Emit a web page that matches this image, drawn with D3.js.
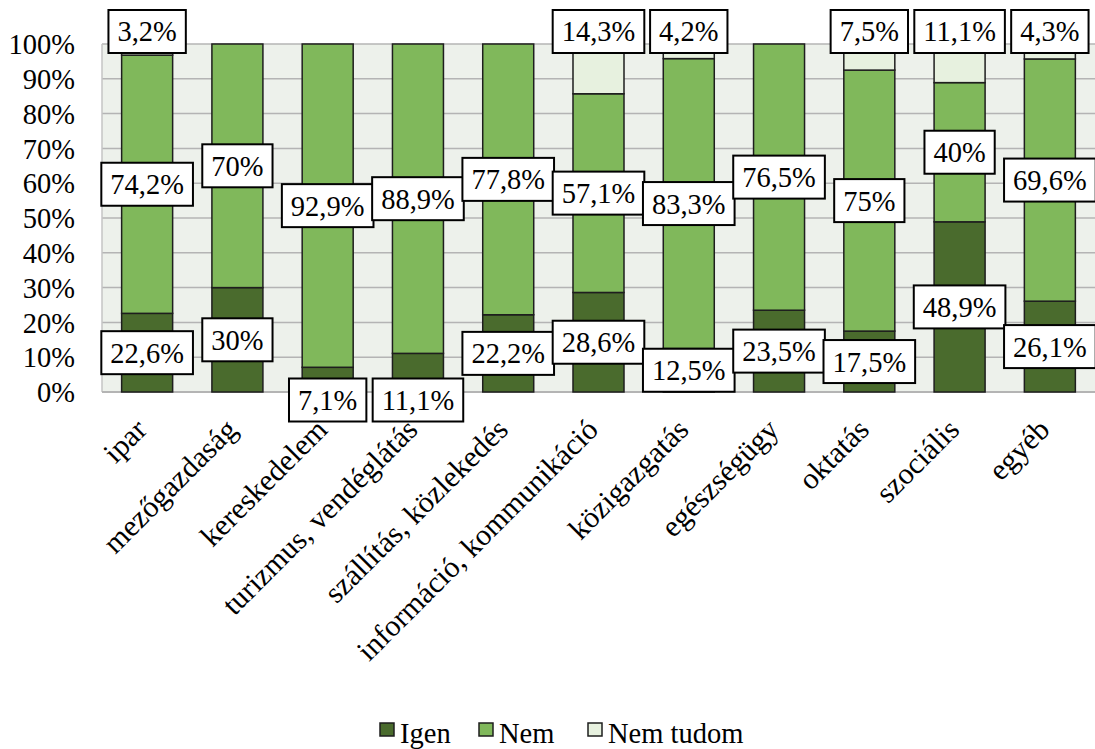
<!DOCTYPE html>
<html>
<head>
<meta charset="utf-8">
<script src="https://cdn.jsdelivr.net/npm/d3@7"></script>
</head>
<body style="margin:0">
<svg id="chart" width="1095" height="749" font-family="Liberation Serif, Tinos, Times New Roman, serif" font-size="28"></svg>
<script>
// Sectors and answer shares (%)
const categories = ["ipar", "mezőgazdaság", "kereskedelem", "turizmus, vendéglátás",
  "szállítás, közlekedés", "információ, kommunikáció", "közigazgatás",
  "egészségügy", "oktatás", "szociális", "egyéb"];
const igen      = [22.6, 30, 7.1, 11.1, 22.2, 28.6, 12.5, 23.5, 17.5, 48.9, 26.1];
const nem       = [74.2, 70, 92.9, 88.9, 77.8, 57.1, 83.3, 76.5, 75, 40, 69.6];
const nemTudom  = [3.2, 0, 0, 0, 0, 14.3, 4.2, 0, 7.5, 11.1, 4.3];
const seriesNames = ["Igen", "Nem", "Nem tudom"];
const seriesValues = [igen, nem, nemTudom];
const yTicks = [0, 10, 20, 30, 40, 50, 60, 70, 80, 90, 100];

const colors = ["#4a6b2d", "#80b85b", "#e7f1df"];
const FONT = "Liberation Serif, Tinos, Times New Roman, serif";
const FS = 28.5;

const svg = d3.select("#chart");
const plot = { left: 102, right: 1095, top: 44, bottom: 392 };

const rows = categories.map((c, i) => ({ cat: c, idx: i, Igen: igen[i], Nem: nem[i], "Nem tudom": nemTudom[i] }));

const x = d3.scaleBand().domain(categories).range([plot.left, plot.right])
  .paddingInner(0.435).paddingOuter(0.2175);
const y = d3.scaleLinear().domain([0, 100]).range([plot.bottom, plot.top]);

// text helper: serif face at a fixed size
const serif = (sel, size = FS) => sel.attr("font-family", FONT).attr("font-size", size).attr("fill", "#000");

// plot background
svg.append("rect")
  .attr("x", plot.left).attr("y", plot.top)
  .attr("width", plot.right - plot.left).attr("height", plot.bottom - plot.top)
  .attr("fill", "#edf1eb");

// horizontal gridlines
svg.append("g").selectAll("line").data(yTicks).join("line")
  .attr("x1", plot.left).attr("x2", plot.right)
  .attr("y1", d => y(d)).attr("y2", d => y(d))
  .attr("stroke", "#b4b4b4").attr("stroke-width", 1.5);

// plot frame (left + bottom)
svg.append("line").attr("x1", plot.left).attr("x2", plot.left)
  .attr("y1", plot.top).attr("y2", plot.bottom).attr("stroke", "#c4c4c4").attr("stroke-width", 1.5);
svg.append("line").attr("x1", plot.left).attr("x2", plot.right)
  .attr("y1", plot.bottom).attr("y2", plot.bottom).attr("stroke", "#b4b4b4").attr("stroke-width", 2);

// y axis
const yAxis = d3.axisLeft(y).tickValues(yTicks).tickFormat(d => d + "%").tickSize(0).tickPadding(0);
const yg = svg.append("g").attr("transform", `translate(${plot.left - 27},0)`).call(yAxis);
yg.attr("font-family", FONT).attr("font-size", FS);
yg.select(".domain").remove();
yg.selectAll("text").call(serif).attr("dy", "0.34em");

// stacked bars
const stack = d3.stack().keys(seriesNames);
const stacked = stack(rows);

const layers = svg.append("g").selectAll("g").data(stacked).join("g")
  .attr("fill", (d, i) => colors[i]);
layers.selectAll("rect").data(d => d.filter(s => s[1] - s[0] > 0)).join("rect")
  .attr("x", d => x(d.data.cat))
  .attr("width", x.bandwidth())
  .attr("y", d => y(d[1]))
  .attr("height", d => y(d[0]) - y(d[1]))
  .attr("stroke", "#1e1e1e").attr("stroke-width", 1.5);

// x axis labels (rotated)
svg.append("g").selectAll("text").data(categories).join("text")
  .attr("transform", d => `translate(${x(d) + x.bandwidth() / 2 - 6},${plot.bottom + 32}) rotate(-45)`)
  .attr("text-anchor", "end")
  .attr("dy", "0.35em")
  .call(serif, 30)
  .text(d => d);

// data labels
const fmt = v => String(v).replace(".", ",") + "%";
const labelH = 43;
const labels = [];
stacked.forEach((layer, li) => {
  layer.forEach(s => {
    const v = seriesValues[li][s.data.idx];
    if (v <= 0) return;
    const cx = x(s.data.cat) + x.bandwidth() / 2;
    let cy = (y(s[0]) + y(s[1])) / 2;
    const segH = y(s[0]) - y(s[1]);
    if (li === 2) {
      cy = y(100) - 12.5;           // top series: label above the column
    } else if (li === 0 && segH < labelH) {
      cy = plot.bottom + 8;         // thin base segment: label pushed below
    }
    labels.push({ cx, cy, text: fmt(v) });
  });
});

const lbl = svg.append("g").selectAll("g").data(labels).join("g")
  .attr("transform", d => `translate(${d.cx},${d.cy})`);
lbl.each(function (d) {
  const g = d3.select(this);
  const t = g.append("text")
    .attr("dy", "0.35em")
    .attr("text-anchor", "middle")
    .call(serif)
    .text(d.text);
  const w = t.node().getComputedTextLength() + 18;
  g.insert("rect", "text")
    .attr("x", -w / 2).attr("y", -labelH / 2)
    .attr("width", w).attr("height", labelH)
    .attr("fill", "#fff").attr("stroke", "#000").attr("stroke-width", 2);
});

// legend
const legendItems = [
  { name: "Igen", x: 380 },
  { name: "Nem", x: 479 },
  { name: "Nem tudom", x: 588 }
];
const leg = svg.append("g").selectAll("g").data(legendItems).join("g")
  .attr("transform", d => `translate(${d.x},723)`);
leg.append("rect")
  .attr("width", 14).attr("height", 13)
  .attr("fill", (d, i) => colors[i]).attr("stroke", "#1e1e1e").attr("stroke-width", 1.5);
leg.append("text")
  .attr("x", 20).attr("y", 20)
  .call(serif)
  .text(d => d.name);
</script>
</body>
</html>
